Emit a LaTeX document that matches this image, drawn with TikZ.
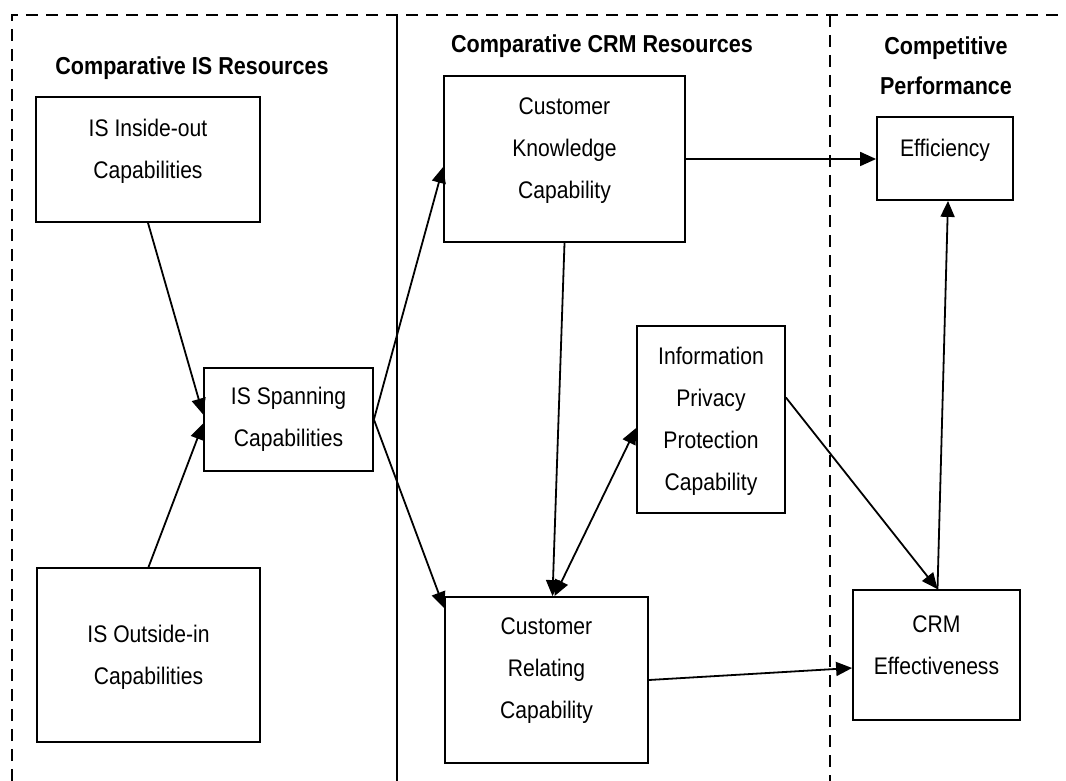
\documentclass[tikz,border=0pt]{standalone}
\usepackage{fontspec}
\setmainfont[FakeStretch=0.88]{Liberation Sans}
\usetikzlibrary{arrows.meta,calc}

\begin{document}
\begin{tikzpicture}[x=1pt,y=-1pt,
  box/.style={draw, line width=1.8pt, inner sep=0pt},
  txt/.style={align=center, inner sep=0pt, font=\fontsize{24}{42}\selectfont},
  ttl/.style={align=center, inner sep=0pt, font=\fontsize{24.5}{40}\selectfont\bfseries},
  tip/.tip={Triangle[length=16pt,width=14pt]},
  arr/.style={line width=1.8pt, -tip},
  darr/.style={line width=1.8pt, tip-tip},
  frame/.style={line width=2.8pt, dash pattern=on 12pt off 8pt},
]
\useasboundingbox (0,0) rectangle (1066,781);
\fill[white] (0,0) rectangle (1066,781);

% panel frame
\draw[frame] (12,781) -- (12,15) -- (1066,15);
\draw[line width=2.4pt] (397,15) -- (397,781);
\draw[frame] (830,15) -- (830,781);

% panel titles
\node[ttl] (t-is) at (192,68) {Comparative IS Resources};
\node[ttl] (t-crm) at (602,46) {Comparative CRM Resources};
\node[ttl] (t-perf) at (946,66) {Competitive\\Performance};

% boxes
\node[box, minimum width=224pt, minimum height=125pt] (isin) at (148,159.5) {};
\node[txt] (isin-t) at (148,151) {IS Inside-out\\Capabilities};

\node[box, minimum width=169pt, minimum height=103pt] (span) at (288.5,419.5) {};
\node[txt] (span-t) at (288.5,419.5) {IS Spanning\\Capabilities};

\node[box, minimum width=223pt, minimum height=174pt] (isout) at (148.5,655) {};
\node[txt] (isout-t) at (148.5,657) {IS Outside-in\\Capabilities};

\node[box, minimum width=241pt, minimum height=166pt] (ck) at (564.5,159) {};
\node[txt] (ck-t) at (564.5,150.5) {Customer\\Knowledge\\Capability};

\node[box, minimum width=148pt, minimum height=187pt] (ipp) at (711,419.5) {};
\node[txt] (ipp-t) at (711,421) {Information\\Privacy\\Protection\\Capability};

\node[box, minimum width=203pt, minimum height=166pt] (cr) at (546.5,680) {};
\node[txt] (cr-t) at (546.5,670.5) {Customer\\Relating\\Capability};

\node[box, minimum width=136pt, minimum height=83pt] (eff) at (945,158.5) {};
\node[txt] (eff-t) at (945,150) {Efficiency};

\node[box, minimum width=167pt, minimum height=130pt] (crm) at (936.5,655) {};
\node[txt] (crm-t) at (936.5,645.5) {CRM\\Effectiveness};

% connectors
\draw[arr] (isin.south) -- ($(span.west)+(0,-5)$);
\draw[arr] (isout.north) -- ($(span.west)+(0,4)$);
\draw[arr] (span.east) -- ($(ck.west)+(0,8)$);
\draw[arr] (span.east) -- ($(cr.west)+(0,-72)$);
\draw[arr] (ck.south) -- ($(cr.north)+(6,0)$);
\draw[darr] ($(cr.north)+(8,0)$) -- ($(ipp.west)+(0,8.5)$);
\draw[arr] (ck.east) -- (ck.east -| eff.west);
\draw[arr] ($(ipp.east)+(0,-22)$) -- ($(crm.north)+(1,0)$);
\draw[arr] ($(crm.north)+(1,0)$) -- ($(eff.south)+(3,0)$);
\draw[arr] (cr.east) -- ($(crm.west)+(0,13)$);
\end{tikzpicture}
\end{document}
